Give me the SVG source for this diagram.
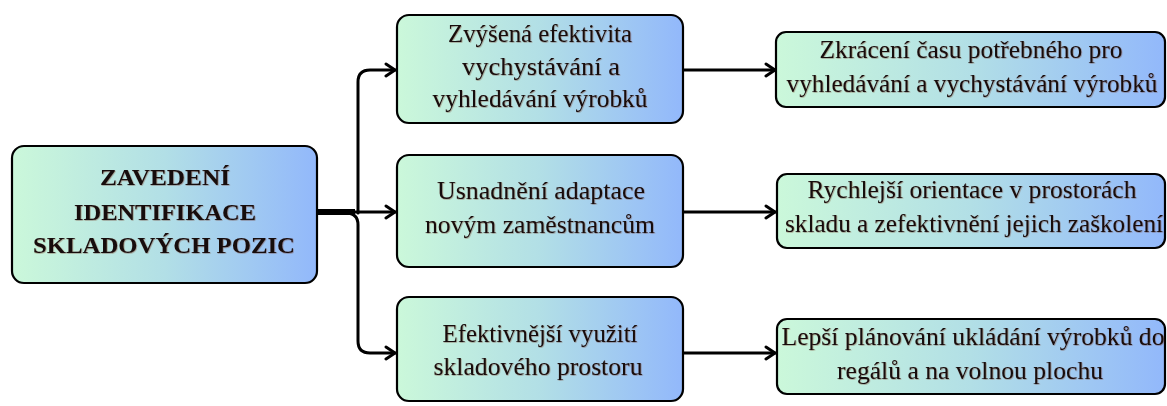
<svg xmlns="http://www.w3.org/2000/svg" width="1167" height="406" viewBox="0 0 1167 406">
<defs>
<linearGradient id="g" x1="0" y1="0" x2="1" y2="0">
<stop offset="0" stop-color="#cbf8da"/>
<stop offset="0.5" stop-color="#b2dfe6"/>
<stop offset="1" stop-color="#92b8fb"/>
</linearGradient>
<marker id="ah" markerUnits="userSpaceOnUse" markerWidth="14" markerHeight="16" refX="11" refY="8" orient="auto">
<path d="M2,2 L11,8 L2,14" fill="none" stroke="#000" stroke-width="3" stroke-linecap="round" stroke-linejoin="round"/>
</marker>
<filter id="sh" x="-5%" y="-30%" width="110%" height="160%">
<feDropShadow dx="0.6" dy="0.6" stdDeviation="0.3" flood-color="#6a2a10" flood-opacity="0.5"/>
</filter>
</defs>
<style>
.box{fill:url(#g);stroke:#000;stroke-width:2.2}
text{font-family:'Liberation Serif','Times New Roman',serif;font-size:25px;fill:#151010;text-anchor:middle;filter:url(#sh)}
.b{font-weight:bold;font-size:24px}
.c{fill:none;stroke:#000;stroke-width:3;stroke-linecap:round;stroke-linejoin:round}
</style>
<g id="connectors">
<path class="c" d="M317,212 H355" style="stroke-width:6;stroke-linecap:butt"/>
<path class="c" d="M358,213 V82 Q358,70 370,70 H395" marker-end="url(#ah)"/>
<path class="c" d="M346,213 Q358,213 358,225 V341 Q358,353 370,353 H395" marker-end="url(#ah)"/>
<path class="c" d="M355,212 H395" marker-end="url(#ah)"/>
<path class="c" d="M683,70 H775" marker-end="url(#ah)"/>
<path class="c" d="M683,212 H775" marker-end="url(#ah)"/>
<path class="c" d="M683,353 H775" marker-end="url(#ah)"/>
</g>
<g id="n0">
<rect class="box" x="12" y="146" width="305" height="137" rx="12"/>
<text class="b" x="165" y="185" textLength="130" lengthAdjust="spacingAndGlyphs">ZAVEDENÍ</text>
<text class="b" x="165" y="220" textLength="182" lengthAdjust="spacingAndGlyphs">IDENTIFIKACE</text>
<text class="b" x="164" y="253" textLength="262" lengthAdjust="spacingAndGlyphs">SKLADOVÝCH POZIC</text>
</g>
<g id="n1">
<rect class="box" x="397" y="15" width="286" height="108" rx="12"/>
<text x="540" y="42" textLength="184" lengthAdjust="spacingAndGlyphs">Zvýšená efektivita</text>
<text x="541" y="75" textLength="158" lengthAdjust="spacingAndGlyphs">vychystávání a</text>
<text x="540" y="107" textLength="215" lengthAdjust="spacingAndGlyphs">vyhledávání výrobků</text>
</g>
<g id="n2">
<rect class="box" x="397" y="155" width="286" height="112" rx="12"/>
<text x="541" y="199" textLength="208" lengthAdjust="spacingAndGlyphs">Usnadnění adaptace</text>
<text x="540" y="233" textLength="230" lengthAdjust="spacingAndGlyphs">novým zaměstnancům</text>
</g>
<g id="n3">
<rect class="box" x="397" y="297" width="286" height="104" rx="12"/>
<text x="540" y="342" textLength="195" lengthAdjust="spacingAndGlyphs">Efektivnější využití</text>
<text x="538" y="375" textLength="209" lengthAdjust="spacingAndGlyphs">skladového prostoru</text>
</g>
<g id="n4">
<rect class="box" x="776" y="32" width="389" height="75" rx="10"/>
<text x="971" y="58" textLength="303" lengthAdjust="spacingAndGlyphs">Zkrácení času potřebného pro</text>
<text x="972" y="92" textLength="371" lengthAdjust="spacingAndGlyphs">vyhledávání a vychystávání výrobků</text>
</g>
<g id="n5">
<rect class="box" x="777" y="174" width="388" height="74" rx="10"/>
<text x="972" y="198" textLength="329" lengthAdjust="spacingAndGlyphs">Rychlejší orientace v prostorách</text>
<text x="974" y="232" textLength="378" lengthAdjust="spacingAndGlyphs">skladu a zefektivnění jejich zaškolení</text>
</g>
<g id="n6">
<rect class="box" x="777" y="319" width="388" height="75" rx="10"/>
<text x="973" y="345" textLength="383" lengthAdjust="spacingAndGlyphs">Lepší plánování ukládání výrobků do</text>
<text x="970" y="379" textLength="266" lengthAdjust="spacingAndGlyphs">regálů a na volnou plochu</text>
</g>
</svg>
